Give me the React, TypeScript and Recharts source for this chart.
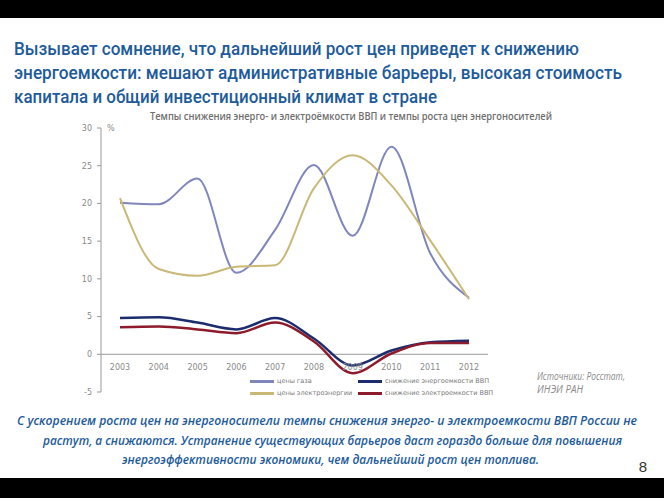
import React from "react";
import { LineChart, Line, XAxis, YAxis, ReferenceLine, Legend } from "recharts";

// values, % per year
const years = ["2003", "2004", "2005", "2006", "2007", "2008", "2009", "2010", "2011", "2012"];
const gasPrice = [20.1, 19.9, 23.3, 10.8, 16.5, 25.1, 15.7, 27.5, 13.4, 7.5];
const elecPrice = [20.7, 11.3, 10.4, 11.6, 11.8, 22.0, 26.4, 22.4, 15.1, 7.3];
const energyIntensity = [4.8, 4.9, 4.2, 3.3, 4.8, 2.1, -1.5, 0.5, 1.6, 1.8];
const elecIntensity = [3.6, 3.7, 3.3, 2.8, 4.2, 1.7, -2.5, 0.1, 1.5, 1.5];
const yTicks = [-5, 0, 5, 10, 15, 20, 25, 30];

const series = [
  { key: "gas", name: "цены газа", color: "#7F86BC", width: 2 },
  { key: "energy", name: "снижение энергоемкости ВВП", color: "#1B2D6E", width: 2.5 },
  { key: "elec", name: "цены электроэнергии", color: "#C9B876", width: 2 },
  { key: "elecInt", name: "снижение электроемкости ВВП", color: "#8E1B2B", width: 2.5 },
];

const data = years.map((year, i) => ({
  year,
  gas: gasPrice[i],
  elec: elecPrice[i],
  energy: energyIntensity[i],
  elecInt: elecIntensity[i],
}));

const BLUE = "#1D5B9B";
const GRAY = "#8A8A8A";

const titleLines = [
  { text: "Вызывает сомнение, что дальнейший рост цен приведет к снижению", w: 565 },
  { text: "энергоемкости: мешают административные барьеры, высокая стоимость", w: 608 },
  { text: "капитала и общий инвестиционный климат в стране", w: 423 },
];

const noteLines = [
  { text: "С ускорением роста цен на энергоносители темпы снижения энерго- и электроемкости ВВП России не", x: 17, w: 620 },
  { text: "растут, а снижаются. Устранение существующих барьеров даст гораздо больше для повышения", x: 43, w: 579 },
  { text: "энергоэффективности экономики, чем дальнейший рост цен топлива.", x: 122, w: 417 },
];

function YearTick(props: any) {
  const { x, y, payload } = props;
  return (
    <text x={x} y={y - 30} textAnchor="middle" fontSize={8} fill={GRAY} fontFamily="DejaVu Sans">
      {payload.value}
    </text>
  );
}

function LegendBox() {
  return (
    <div style={{ display: "grid", gridTemplateColumns: "108px 140px", rowGap: 3, fontFamily: "DejaVu Sans", fontSize: 6.5, color: "#777" }}>
      {series.map((s) => (
        <div key={s.key} style={{ display: "flex", alignItems: "center", whiteSpace: "nowrap", lineHeight: "9px" }}>
          <span style={{ display: "inline-block", width: 24, height: s.width + 0.5, background: s.color, marginRight: 3 }} />
          {s.name}
        </div>
      ))}
    </div>
  );
}

export default function App() {
  return (
    <div style={{ position: "absolute", left: 0, top: 0, width: 664, height: 498, background: "#fff", overflow: "hidden" }}>
      <svg width={664} height={498} style={{ position: "absolute", left: 0, top: 0 }}>
        <rect x={0} y={0} width={664} height={18} fill="#000" />
        <rect x={0} y={478} width={664} height={20} fill="#000" />
        {titleLines.map((l, i) => (
          <text key={i} x={14} y={55 + i * 24} fontFamily="Roboto" fontWeight={500} fontSize={18} fill={BLUE}
            textLength={l.w} lengthAdjust="spacingAndGlyphs">
            {l.text}
          </text>
        ))}
        <text x={150} y={120} fontFamily="Open Sans" fontWeight={600} fontSize={10} fill="#6E6E6E" textLength={402} lengthAdjust="spacingAndGlyphs">
          Темпы снижения энерго- и электроёмкости ВВП и темпы роста цен энергоносителей
        </text>
        <text x={107} y={131} fontFamily="DejaVu Sans" fontSize={8} fill={GRAY}>%</text>
        <text x={537} y={380} fontFamily="Open Sans" fontStyle="italic" fontSize={10} fill={GRAY} textLength={88} lengthAdjust="spacingAndGlyphs">Источники: Росстат,</text>
        <text x={537} y={393} fontFamily="Open Sans" fontStyle="italic" fontSize={10} fill={GRAY} textLength={46} lengthAdjust="spacingAndGlyphs">ИНЭИ РАН</text>
        {noteLines.map((l, i) => (
          <text key={i} x={l.x} y={425 + i * 19.5} fontFamily="Open Sans" fontStyle="italic" fontWeight={600} fontSize={12.5} fill={BLUE}
            textLength={l.w} lengthAdjust="spacingAndGlyphs">
            {l.text}
          </text>
        ))}
        <text x={643} y={472} textAnchor="middle" fontFamily="Liberation Sans" fontSize={15} fill="#333">8</text>
      </svg>
      <div style={{ position: "absolute", left: 0, top: 0 }}>
        <LineChart width={664} height={498} data={data} margin={{ top: 128, left: 71, right: 176, bottom: 76 }}>
          <XAxis dataKey="year" height={30} axisLine={false} tickLine={false} tick={<YearTick />} interval={0}
            padding={{ left: 19, right: 19 }} />
          <YAxis domain={[-5, 30]} ticks={yTicks} width={30} tickSize={4} tickMargin={5}
            stroke="#999" tick={{ fontSize: 8, fill: GRAY, fontFamily: "DejaVu Sans" }} />
          <ReferenceLine y={0} stroke="#999" strokeWidth={1} />
          <Legend layout="horizontal" verticalAlign="middle" content={<LegendBox />}
            wrapperStyle={{ left: 250, top: 377, width: 260 }} />
          {series.map((s) => (
            <Line key={s.key} type="monotone" dataKey={s.key} name={s.name} stroke={s.color}
              strokeWidth={s.width} dot={false} isAnimationActive={false} />
          ))}
        </LineChart>
      </div>
    </div>
  );
}
